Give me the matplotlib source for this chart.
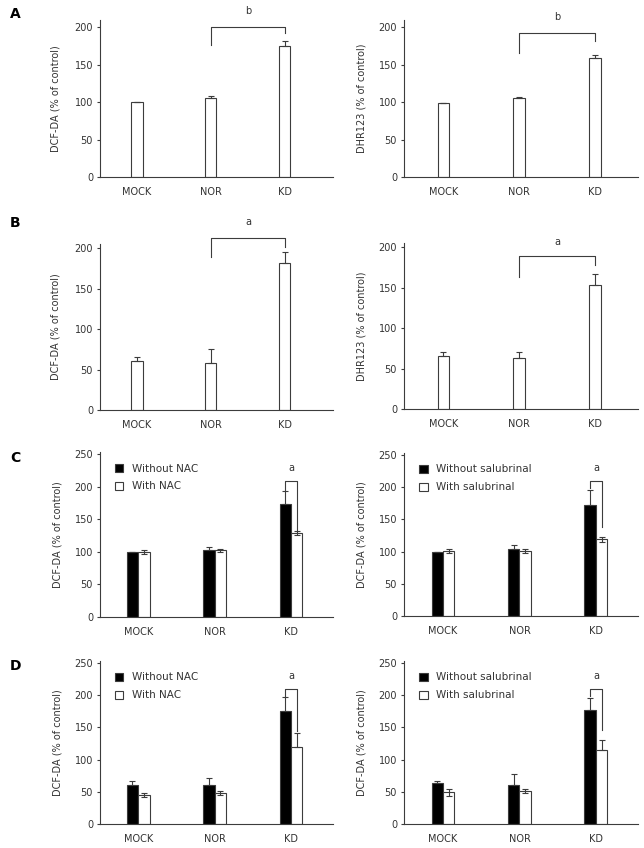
import numpy as np
import matplotlib.pyplot as plt
from matplotlib.patches import Rectangle

groups = ["MOCK", "NOR", "KD"]

# row A: single bars
a_dcf = [100, 106, 175]
a_dcf_err = [0, 2, 7]
a_dhr = [99, 105, 159]
a_dhr_err = [0, 2, 4]

# row B: single bars
b_dcf = [60, 58, 182]
b_dcf_err = [5, 17, 13]
b_dhr = [65, 63, 153]
b_dhr_err = [5, 7, 14]

# row C: grouped bars
c_nac_without = [99, 102, 174]
c_nac_without_err = [0, 6, 19]
c_nac_with = [99, 102, 129]
c_nac_with_err = [3, 3, 3]
c_sal_without = [100, 104, 173]
c_sal_without_err = [0, 6, 22]
c_sal_with = [101, 101, 119]
c_sal_with_err = [3, 3, 4]

# row D: grouped bars
d_nac_without = [60, 60, 176]
d_nac_without_err = [6, 12, 21]
d_nac_with = [45, 48, 120]
d_nac_with_err = [3, 3, 22]
d_sal_without = [64, 61, 177]
d_sal_without_err = [2, 16, 18]
d_sal_with = [49, 51, 115]
d_sal_with_err = [5, 3, 15]

TXT = "#333333"
LINE = "#3c3c3c"
W, H = 644, 848

plt.rcParams["font.family"] = "DejaVu Sans"
fig = plt.figure(figsize=(W / 100, H / 100), dpi=100)


def make_ax(left_px, right_px, bottom_px, top_px):
  ax = fig.add_axes([left_px / W, 1 - bottom_px / H, (right_px - left_px) / W, (bottom_px - top_px) / H])
  for s in ["top", "right"]:
    ax.spines[s].set_visible(False)
  for s in ["left", "bottom"]:
    ax.spines[s].set_color(LINE)
    ax.spines[s].set_linewidth(0.8)
  ax.tick_params(axis="y", direction="out", length=2, width=0.8, color=LINE, pad=3, labelsize=7, labelcolor=TXT)
  ax.tick_params(axis="x", length=0, pad=7, labelsize=7, labelcolor=TXT)
  ax.set_xticks(range(len(groups)))
  ax.set_xticklabels(groups)
  return ax


def bracket(ax, x1, x2, y1, y2, top, label, ty):
  ax.plot([x1, x1, x2, x2], [y1, top, top, y2], color=LINE, lw=0.8, clip_on=False)
  ax.text((x1 + x2) / 2, ty, label, ha="center", va="center", fontsize=7, color=TXT, clip_on=False)


def single(ax, vals, errs):
  x = np.arange(len(vals))
  ax.bar(x, vals, width=0.15, color="white", edgecolor=LINE, linewidth=0.8)
  ax.errorbar(x, vals, yerr=[np.zeros(len(errs)), errs], fmt="none", ecolor=LINE, elinewidth=0.8, capsize=2, capthick=0.8)


def grouped(ax, v1, e1, v2, e2, lab1, lab2):
  x = np.arange(len(v1))
  w = 0.15
  ax.bar(x - w / 2, v1, width=w, color="black", edgecolor=LINE, linewidth=0.8)
  ax.bar(x + w / 2, v2, width=w, color="white", edgecolor=LINE, linewidth=0.8)
  e2 = np.array(e2)
  lo2 = np.where(e2 <= 5, e2, 0)
  ax.errorbar(x - w / 2, v1, yerr=[np.zeros(len(e1)), e1], fmt="none", ecolor=LINE, elinewidth=0.8, capsize=2, capthick=0.8)
  ax.errorbar(x + w / 2, v2, yerr=[lo2, e2], fmt="none", ecolor=LINE, elinewidth=0.8, capsize=2, capthick=0.8)
  handles = [Rectangle((0, 0), 1, 1, facecolor="black", edgecolor=LINE, lw=0.8),
             Rectangle((0, 0), 1, 1, facecolor="white", edgecolor=LINE, lw=0.8)]
  ax.legend(handles, [lab1, lab2], loc="upper left", bbox_to_anchor=(0.065, 0.93), frameon=False,
            fontsize=7.5, handlelength=0.8, handleheight=0.8, handletextpad=0.8, labelspacing=0.75,
            borderaxespad=0, borderpad=0, labelcolor=TXT)


def ylab(ax, text, right_px, left_px, width_px):
  ax.set_ylabel(text, fontsize=7, color=TXT)
  ax.yaxis.set_label_coords((right_px - left_px) / width_px, 0.5)


LX0, LX1 = 100, 333
RX0, RX1 = 404, 638

# ---- A ----
ax = make_ax(LX0, LX1, 177, 19.5)
single(ax, a_dcf, a_dcf_err)
ax.set_ylim(0, 210)
ax.set_yticks([0, 50, 100, 150, 200])
ax.set_xlim(-0.5, 2.65)
bracket(ax, 1, 2, 176, 192, 200, "b", 222)
ylab(ax, "DCF-DA (% of control)", 61, LX0, LX1 - LX0)

ax = make_ax(RX0, RX1, 177, 19.5)
single(ax, a_dhr, a_dhr_err)
ax.set_ylim(0, 210)
ax.set_yticks([0, 50, 100, 150, 200])
ax.set_xlim(-0.52, 2.57)
bracket(ax, 1, 2, 166, 181, 192, "b", 213)
ylab(ax, "DHR123 (% of control)", 367, RX0, RX1 - RX0)

# ---- B ----
ax = make_ax(LX0, LX1, 410, 244)
single(ax, b_dcf, b_dcf_err)
ax.set_ylim(0, 205)
ax.set_yticks([0, 50, 100, 150, 200])
ax.set_xlim(-0.5, 2.65)
bracket(ax, 1, 2, 189, 201, 213, "a", 232)
ylab(ax, "DCF-DA (% of control)", 61, LX0, LX1 - LX0)

ax = make_ax(RX0, RX1, 409, 243)
single(ax, b_dhr, b_dhr_err)
ax.set_ylim(0, 205)
ax.set_yticks([0, 50, 100, 150, 200])
ax.set_xlim(-0.52, 2.57)
bracket(ax, 1, 2, 163, 178, 189, "a", 206)
ylab(ax, "DHR123 (% of control)", 367, RX0, RX1 - RX0)

# ---- C ----
ax = make_ax(LX0, LX1, 617, 452)
grouped(ax, c_nac_without, c_nac_without_err, c_nac_with, c_nac_with_err, "Without NAC", "With NAC")
ax.set_ylim(0, 253)
ax.set_yticks([0, 50, 100, 150, 200, 250])
ax.set_xlim(-0.5, 2.55)
bracket(ax, 2 - 0.075, 2 + 0.075, 194, 134, 209, "a", 228)
ylab(ax, "DCF-DA (% of control)", 62, LX0, LX1 - LX0)

ax = make_ax(RX0, RX1, 616, 453)
grouped(ax, c_sal_without, c_sal_without_err, c_sal_with, c_sal_with_err, "Without salubrinal", "With salubrinal")
ax.set_ylim(0, 253)
ax.set_yticks([0, 50, 100, 150, 200, 250])
ax.set_xlim(-0.51, 2.55)
bracket(ax, 2 - 0.075, 2 + 0.075, 198, 138, 210, "a", 230)
ylab(ax, "DCF-DA (% of control)", 367, RX0, RX1 - RX0)

# ---- D ----
ax = make_ax(LX0, LX1, 824, 661)
grouped(ax, d_nac_without, d_nac_without_err, d_nac_with, d_nac_with_err, "Without NAC", "With NAC")
ax.set_ylim(0, 253)
ax.set_yticks([0, 50, 100, 150, 200, 250])
ax.set_xlim(-0.5, 2.55)
bracket(ax, 2 - 0.075, 2 + 0.075, 197, 144, 210, "a", 230)
ylab(ax, "DCF-DA (% of control)", 62, LX0, LX1 - LX0)

ax = make_ax(RX0, RX1, 824, 661)
grouped(ax, d_sal_without, d_sal_without_err, d_sal_with, d_sal_with_err, "Without salubrinal", "With salubrinal")
ax.set_ylim(0, 253)
ax.set_yticks([0, 50, 100, 150, 200, 250])
ax.set_xlim(-0.51, 2.55)
bracket(ax, 2 - 0.075, 2 + 0.075, 198, 146, 210, "a", 230)
ylab(ax, "DCF-DA (% of control)", 367, RX0, RX1 - RX0)

# panel letters
for letter, ypx in [("A", 14), ("B", 223), ("C", 458), ("D", 666)]:
  fig.text(10 / W, 1 - ypx / H, letter, fontsize=10, fontweight="bold", ha="left", va="center", color="black")

fig.savefig("out.png", dpi=100)
